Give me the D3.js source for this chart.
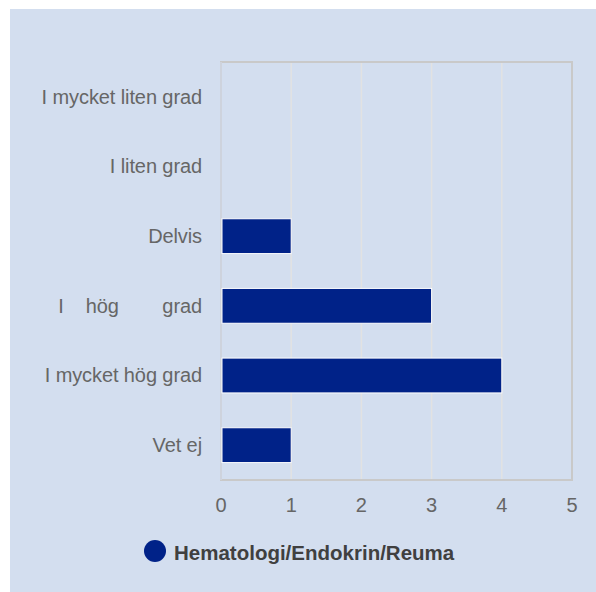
<!DOCTYPE html>
<html>
<head>
<meta charset="utf-8">
<script src="https://cdn.jsdelivr.net/npm/d3@7"></script>
<style>
  body { margin: 0; background: #fff; }
  text { font-family: "Liberation Sans", Arial, sans-serif; }
</style>
</head>
<body>
<div id="chart"></div>
<script>
const categories = ['I mycket liten grad', 'I liten grad', 'Delvis', 'I    hög        grad', 'I mycket hög grad', 'Vet ej']
const values = [0, 0, 1, 3, 4, 1]
const xTicks = [0, 1, 2, 3, 4, 5]
const seriesName = 'Hematologi/Endokrin/Reuma'

const W = 596, H = 592
const svg = d3.select('#chart').append('svg').attr('width', W).attr('height', H).style('display', 'block')

svg.append('rect').attr('x', 10).attr('y', 9).attr('width', W - 10).attr('height', H - 9).attr('fill', '#d3deef')

const plotL = 221, plotR = 572, plotT = 62, plotB = 480
const x = d3.scaleLinear().domain([0, 5]).range([plotL, plotR])
const y = d3.scaleBand().domain(categories).range([plotT, plotB]).paddingInner(0.5).paddingOuter(0.25)

// gridlines
svg.append('g').selectAll('line').data(xTicks.slice(1, -1)).enter().append('line')
  .attr('x1', d => x(d)).attr('x2', d => x(d)).attr('y1', plotT).attr('y2', plotB)
  .attr('stroke', '#e2e2e2').attr('stroke-width', 1.5)

// frame
svg.append('rect').attr('x', plotL).attr('y', plotT).attr('width', plotR - plotL).attr('height', plotB - plotT)
  .attr('fill', 'none').attr('stroke', '#c9c9c9').attr('stroke-width', 2)
svg.append('line').attr('x1', plotL).attr('x2', plotL).attr('y1', plotT).attr('y2', plotB)
  .attr('stroke', '#cfd6e3').attr('stroke-width', 1.5)

// bars
svg.append('g').selectAll('rect').data(values).enter().append('rect')
  .attr('x', plotL + 1).attr('y', (d, i) => y(categories[i]))
  .attr('width', d => Math.max(0, x(d) - plotL - 1)).attr('height', y.bandwidth())
  .attr('fill', '#002288').attr('stroke', d => d > 0 ? '#ffffff' : 'none').attr('stroke-width', 1)
  .style('display', d => d > 0 ? null : 'none')

// category labels
svg.append('g').selectAll('text').data(categories).enter().append('text')
  .attr('x', 202).attr('y', d => y(d) + y.bandwidth() / 2)
  .attr('dy', '0.34em').attr('text-anchor', 'end')
  .attr('font-size', 20).attr('letter-spacing', -0.1).attr('fill', '#666666')
  .style('white-space', 'pre')
  .text(d => d)

// x tick labels
svg.append('g').selectAll('text').data(xTicks).enter().append('text')
  .attr('x', d => x(d)).attr('y', 512).attr('text-anchor', 'middle')
  .attr('font-size', 20).attr('fill', '#666666')
  .text(d => d)

// legend
svg.append('circle').attr('cx', 155).attr('cy', 551).attr('r', 11).attr('fill', '#002288')
svg.append('text').attr('x', 174).attr('y', 560).attr('font-size', 20.5).attr('font-weight', 'bold')
  .attr('fill', '#404040').text(seriesName)
</script>
</body>
</html>
